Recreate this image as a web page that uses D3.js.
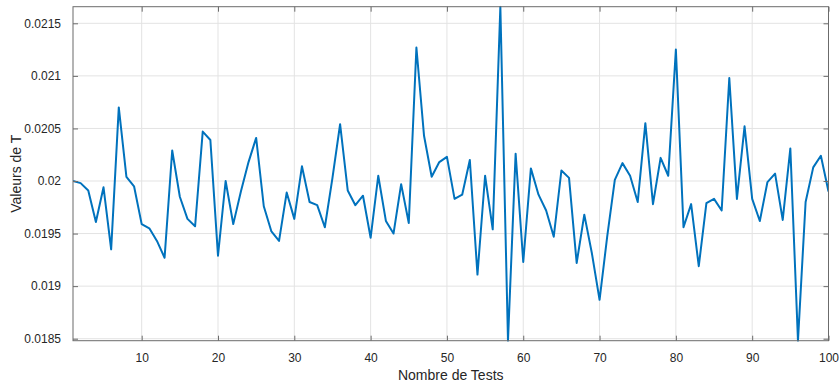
<!DOCTYPE html>
<html>
<head>
<meta charset="utf-8">
<script src="https://cdn.jsdelivr.net/npm/d3@7"></script>
<style>
  html, body { margin: 0; padding: 0; background: #fff; }
  svg { display: block; }
  text { font-family: "Liberation Sans", Arial, Helvetica, sans-serif; }
</style>
</head>
<body>
<svg id="chart" width="840" height="384"></svg>
<script>
// ---- data ----
const testNumbers = d3.range(1, 101);
const tValues = [
  0.02000, 0.01998, 0.01991, 0.01961, 0.01994, 0.01935, 0.02070, 0.02004, 0.01995, 0.01959,
  0.01955, 0.01943, 0.01927, 0.02029, 0.01985, 0.01964, 0.01957, 0.02047, 0.02039, 0.01929,
  0.02000, 0.01959, 0.01990, 0.02018, 0.02041, 0.01976, 0.01952, 0.01943, 0.01989, 0.01964,
  0.02014, 0.01980, 0.01977, 0.01956, 0.02003, 0.02054, 0.01991, 0.01977, 0.01986, 0.01946,
  0.02005, 0.01962, 0.01950, 0.01997, 0.01960, 0.02127, 0.02043, 0.02004, 0.02018, 0.02023,
  0.01983, 0.01987, 0.02020, 0.01911, 0.02005, 0.01954, 0.021658, 0.018481, 0.02026, 0.01923,
  0.02012, 0.01987, 0.01972, 0.01947, 0.02010, 0.02003, 0.01922, 0.01968, 0.01931, 0.01887,
  0.01947, 0.02001, 0.02017, 0.02005, 0.01980, 0.02055, 0.01978, 0.02022, 0.02005, 0.02125,
  0.01956, 0.01978, 0.01919, 0.01979, 0.01983, 0.01972, 0.02098, 0.01983, 0.02052, 0.01983,
  0.01962, 0.01999, 0.02007, 0.01963, 0.02031, 0.018481, 0.01980, 0.02013, 0.02024, 0.01990
];
const xTicks = [10, 20, 30, 40, 50, 60, 70, 80, 90, 100];
const yTicks = [0.0185, 0.019, 0.0195, 0.02, 0.0205, 0.021, 0.0215];
const yTickLabels = ["0.0185", "0.019", "0.0195", "0.02", "0.0205", "0.021", "0.0215"];
const xLabel = "Nombre de Tests";
const yLabel = "Valeurs de T";

// ---- layout ----
const margin = { left: 73, right: 840 - 828.5, top: 6.7, bottom: 384 - 340.7 };
const W = 840, H = 384;
const iw = W - margin.left - margin.right;
const ih = H - margin.top - margin.bottom;

const svg = d3.select("#chart");
const g = svg.append("g").attr("transform", `translate(${margin.left},${margin.top})`);

const x = d3.scaleLinear().domain([1, 100]).range([0, iw]);
const y = d3.scaleLinear().domain(d3.extent(tValues)).range([ih, 0]);

const gridColor = "#e3e3e3";
const axisColor = "#6b6b6b";
const textColor = "#262626";

// grid
g.append("g").selectAll("line").data(xTicks).join("line")
  .attr("x1", d => x(d)).attr("x2", d => x(d))
  .attr("y1", 0).attr("y2", ih)
  .attr("stroke", gridColor).attr("stroke-width", 1);
g.append("g").selectAll("line").data(yTicks).join("line")
  .attr("x1", 0).attr("x2", iw)
  .attr("y1", d => y(d)).attr("y2", d => y(d))
  .attr("stroke", gridColor).attr("stroke-width", 1);

// line
g.append("clipPath").attr("id", "clip").append("rect")
  .attr("x", 0).attr("y", -1).attr("width", iw).attr("height", ih + 2);
const line = d3.line().x((d, i) => x(testNumbers[i])).y(d => y(d));
g.append("path").datum(tValues)
  .attr("clip-path", "url(#clip)")
  .attr("fill", "none")
  .attr("stroke", "#0072BD")
  .attr("stroke-width", 2)
  .attr("stroke-linejoin", "round")
  .attr("d", line);

// axes (MATLAB style: inward ticks, boxed)
const tickLen = 5;
const xAxisB = d3.axisBottom(x).tickValues(xTicks).tickSizeInner(-tickLen).tickSizeOuter(0).tickPadding(13);
const xAxisT = d3.axisTop(x).tickValues(xTicks).tickSizeInner(-tickLen).tickSizeOuter(0).tickFormat("");
const yAxisL = d3.axisLeft(y).tickValues(yTicks).tickSizeInner(-tickLen).tickSizeOuter(0).tickPadding(12)
  .tickFormat((d, i) => yTickLabels[i]);
const yAxisR = d3.axisRight(y).tickValues(yTicks).tickSizeInner(-tickLen).tickSizeOuter(0).tickFormat("");

function styleAxis(sel) {
  sel.select(".domain").remove();
  sel.selectAll(".tick line").attr("stroke", axisColor);
  sel.selectAll(".tick text").attr("fill", textColor).style("font-size", "12px")
    .style("font-family", '"Liberation Sans", Arial, sans-serif');
}
g.append("g").attr("transform", `translate(0,${ih})`).call(xAxisB).call(styleAxis);
g.append("g").call(xAxisT).call(styleAxis);
g.append("g").call(yAxisL).call(styleAxis);
g.append("g").attr("transform", `translate(${iw},0)`).call(yAxisR).call(styleAxis);

// box
g.append("rect").attr("x", 0).attr("y", 0).attr("width", iw).attr("height", ih)
  .attr("fill", "none").attr("stroke", axisColor).attr("stroke-width", 1);

// labels
svg.append("text")
  .attr("x", margin.left + iw / 2).attr("y", 380)
  .attr("text-anchor", "middle").attr("fill", textColor)
  .style("font-size", "14px").text(xLabel);
svg.append("text")
  .attr("transform", `translate(21,${margin.top + ih / 2}) rotate(-90)`)
  .attr("text-anchor", "middle").attr("fill", textColor)
  .style("font-size", "14px").text(yLabel);
</script>
</body>
</html>
